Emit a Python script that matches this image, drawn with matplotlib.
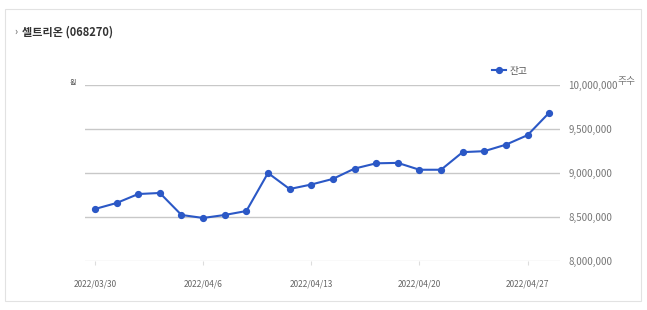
import matplotlib
matplotlib.use("Agg")
import matplotlib.pyplot as plt
from matplotlib.patches import Rectangle

plt.rcParams["font.family"] = ["Noto Sans CJK KR", "DejaVu Sans"]

# 셀트리온 대차잔고 (주수)
dates = ["2022/03/30", "2022/03/31", "2022/04/1", "2022/04/4", "2022/04/5",
         "2022/04/6", "2022/04/7", "2022/04/8", "2022/04/11", "2022/04/12",
         "2022/04/13", "2022/04/14", "2022/04/15", "2022/04/18", "2022/04/19",
         "2022/04/20", "2022/04/21", "2022/04/22", "2022/04/25", "2022/04/26",
         "2022/04/27", "2022/04/28"]
balance = [8591000, 8659000, 8761000, 8773000, 8523000, 8489000, 8523000,
           8568000, 9000000, 8818000, 8869000, 8933000, 9050000, 9110000,
           9115000, 9037000, 9037000, 9237000, 9248000, 9322000, 9430000,
           9685000]
tick_idx = [0, 5, 10, 15, 20]
tick_labels = ["2022/03/30", "2022/04/6", "2022/04/13", "2022/04/20", "2022/04/27"]
y_ticks = [8000000, 8500000, 9000000, 9500000, 10000000]

fig = plt.figure(figsize=(6.47, 3.10), dpi=100)

# 바깥 테두리
fig.patches.append(Rectangle((5 / 647, 1 - 301 / 310), 636 / 647, 292 / 310,
                             transform=fig.transFigure, fill=False,
                             edgecolor="#e2e2e2", linewidth=0.8))
fig.text(14 / 647, 1 - 32 / 310, "›", fontsize=7, color="#555555", va="center")
fig.text(22 / 647, 1 - 32 / 310, "셀트리온 (068270)", fontsize=8,
         color="#333333", fontweight="bold", va="center")

ax = fig.add_axes([85 / 647, 1 - 261 / 310, 475 / 647, 176 / 310])
x = list(range(len(balance)))
ax.plot(x, balance, color="#2b58c6", linewidth=1.5, marker="o",
        markersize=4.2, label="잔고", zorder=3)

ax.set_xlim(-0.46, 21.5)
ax.set_ylim(8000000, 10000000)
ax.set_yticks(y_ticks)
ax.set_yticklabels([f"{v:,}" for v in y_ticks])
ax.yaxis.tick_right()
ax.tick_params(axis="y", length=0, pad=6, labelsize=7, labelcolor="#777777")
ax.set_xticks(tick_idx)
ax.set_xticklabels(tick_labels)
ax.tick_params(axis="x", length=3, color="#dddddd", pad=10, labelsize=6,
               labelcolor="#666666")

for y in y_ticks[1:]:
    ax.axhline(y, color="#c8c8c8", linewidth=1, zorder=1)
ax.axhline(y_ticks[0], color="#e2e2e2", linewidth=1, zorder=1)
for s in ax.spines.values():
    s.set_visible(False)

fig.text(618 / 647, 1 - 81 / 310, "주수", fontsize=7, color="#777777",
         ha="left", va="center")
fig.text(73 / 647, 1 - 83 / 310, "원", fontsize=5, color="#444444",
         ha="center", va="center")

ax.legend(loc="lower right", bbox_to_anchor=(0.94, 1.03), frameon=False,
          fontsize=7, handlelength=1.4, handletextpad=0.4, labelcolor="#555555",
          borderaxespad=0)

fig.savefig("out.png", dpi=100)
